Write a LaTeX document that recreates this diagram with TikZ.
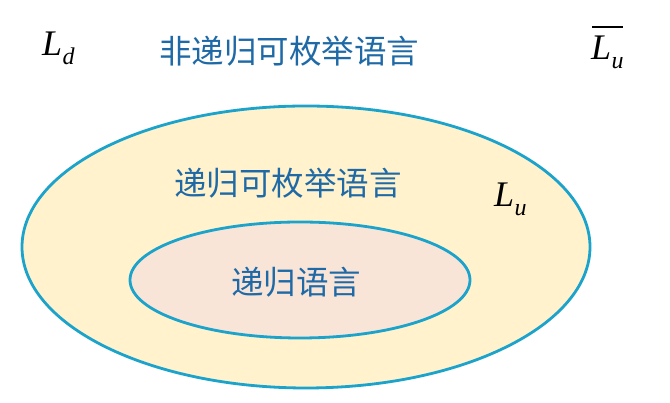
\documentclass[tikz,border=0pt]{standalone}
\usepackage{fontspec}
\newfontfamily\cjk{Noto Sans CJK SC}
\newfontfamily\tnr{Liberation Serif}
\definecolor{edgeblue}{HTML}{1BA3CB}
\definecolor{outerfill}{HTML}{FFF2CC}
\definecolor{innerfill}{HTML}{F9E4D8}
\definecolor{txtblue}{HTML}{1F6AA6}
\newcommand{\Lsym}[1]{{\tnr\itshape\fontsize{36}{36}\selectfont L\kern0.5pt\raisebox{-9pt}{\fontsize{24}{24}\selectfont #1}}}
\tikzset{
  cjktext/.style={font=\cjk\fontsize{32.5}{32.5}\selectfont, text=txtblue, inner sep=0pt},
  ring/.style={draw=edgeblue, line width=2.8pt},
  sym/.style={inner sep=0pt, anchor=base west}
}
\begin{document}
\begin{tikzpicture}[x=1pt,y=1pt]
\useasboundingbox (0,0) rectangle (670,403);
\fill[white] (0,0) rectangle (670,403);
% outer ellipse
\draw[ring, fill=outerfill] (306,156) ellipse [x radius=284, y radius=141];
% inner ellipse
\draw[ring, fill=innerfill] (300,123) ellipse [x radius=170, y radius=58];
\node[cjktext] (top) at (289,352) {非递归可枚举语言};
\node[cjktext] (re) at (288,220) {递归可枚举语言};
\node[cjktext] (rec) at (296,121) {递归语言};
\node[sym] (ld) at (42,347) {\Lsym{d}};
\node[sym] (lu) at (494,196) {\Lsym{u}};
\node[sym] (lubar) at (591,343) {\Lsym{u}};
\draw[line width=1.3pt] (592,376) -- (623,376);
\end{tikzpicture}
\end{document}
